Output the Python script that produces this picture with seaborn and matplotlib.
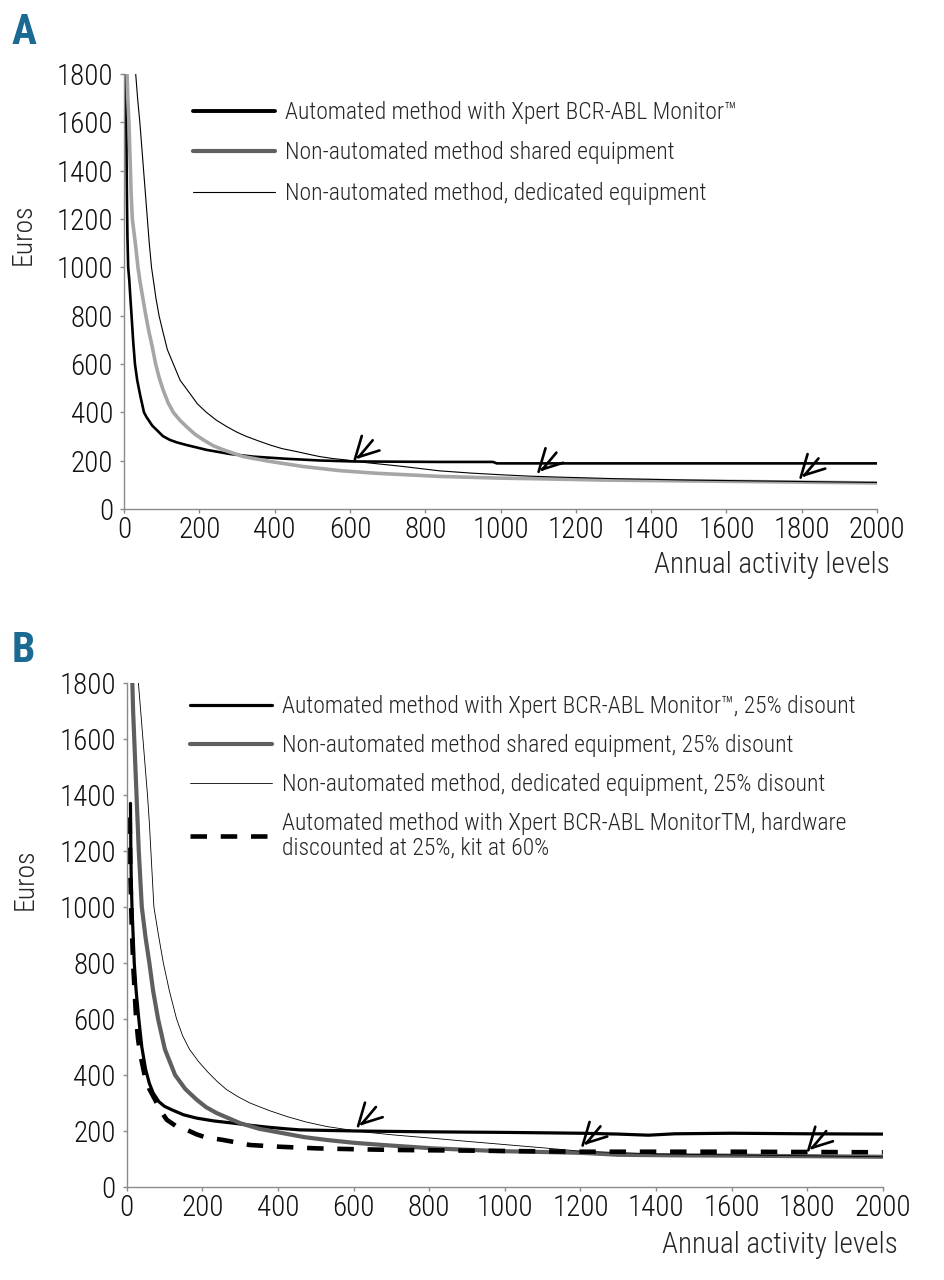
import matplotlib
matplotlib.use("Agg")
import matplotlib.pyplot as plt
import seaborn as sns

# panel A: cost per test (euros) vs annual activity level
a_auto_x = [5, 6, 7, 8, 9, 11, 14, 17, 20, 24, 29, 35, 43, 53, 60, 75, 87, 103, 122, 140, 166, 219, 281, 343, 432, 520, 609, 839, 980, 990, 1200, 1600, 2000]
a_auto_y = [1800, 1600, 1400, 1250, 1130, 1000, 946, 870, 800, 700, 600, 533, 470, 400, 380, 345, 327, 302, 286, 276, 265, 245, 228, 217, 208, 201, 197, 195, 195, 189, 189, 189, 189]

a_shared_x = [8, 10, 13, 15, 17, 19, 22, 30, 37, 42, 48, 58, 66, 75, 84, 93, 104, 117, 131, 148, 166, 188, 211, 237, 264, 317, 388, 476, 573, 671, 839, 1000, 1112, 1272, 1592, 2000]
a_shared_y = [1800, 1700, 1600, 1500, 1400, 1300, 1200, 1100, 1000, 946, 890, 800, 735, 671, 600, 545, 492, 440, 400, 368, 341, 310, 286, 262, 245, 217, 197, 176, 159, 148, 135, 128, 125, 120, 115, 108]

a_dedic_x = [31, 36, 42, 47, 52, 57, 62, 67, 73, 78, 85, 93, 103, 115, 131, 149, 175, 195, 219, 245, 273, 300, 326, 357, 388, 420, 458, 490, 520, 555, 591, 644, 700, 742, 790, 839, 920, 1000, 1080, 1160, 1300, 1500, 1750, 2000]
a_dedic_y = [1800, 1700, 1600, 1500, 1400, 1300, 1200, 1100, 1000, 946, 870, 800, 735, 660, 600, 533, 478, 435, 400, 368, 341, 318, 300, 282, 265, 250, 238, 227, 217, 209, 203, 192, 183, 176, 167, 158, 149, 142, 136, 132, 126, 120, 115, 110]

# panel B: 25% discount scenarios
b_auto_x = [10, 11, 12, 14, 17, 20, 25, 32, 40, 50, 60, 70, 85, 100, 119, 150, 185, 230, 282, 330, 370, 420, 458, 530, 608, 800, 1000, 1200, 1300, 1380, 1450, 1600, 1800, 2000]
b_auto_y = [1370, 1200, 1100, 1000, 900, 800, 700, 600, 500, 420, 370, 336, 305, 288, 276, 258, 246, 236, 228, 220, 214, 208, 204, 202, 200, 197, 195, 192, 189, 185, 190, 192, 190, 189]

b_shared_x = [15, 17, 20, 23, 26, 29, 32, 36, 40, 50, 60, 70, 83, 101, 128, 155, 185, 210, 238, 300, 350, 414, 470, 529, 600, 678, 810, 987, 1100, 1200, 1260, 1300, 1450, 1600, 2000]
b_shared_y = [1800, 1700, 1600, 1500, 1400, 1300, 1200, 1100, 1000, 890, 800, 700, 600, 492, 400, 350, 312, 285, 264, 228, 208, 192, 178, 168, 158, 150, 138, 128, 125, 122, 118, 115, 113, 112, 108]

b_dedic_x = [31, 37, 43, 49, 55, 60, 64, 68, 72, 84, 97, 113, 132, 148, 166, 190, 215, 240, 264, 295, 326, 375, 423, 475, 529, 617, 705, 810, 900, 987, 1100, 1200, 1400, 1700, 2000]
b_dedic_y = [1800, 1700, 1600, 1500, 1400, 1300, 1200, 1100, 1000, 900, 800, 700, 600, 540, 492, 448, 410, 376, 348, 322, 300, 274, 252, 232, 216, 198, 186, 174, 163, 153, 140, 128, 118, 113, 108]

b_kit_x = [8, 9, 10, 13, 17, 21, 25, 30, 35, 48, 60, 75, 90, 106, 130, 159, 185, 207, 255, 326, 400, 502, 600, 722, 899, 1200, 1600, 2000]
b_kit_y = [1320, 1200, 1100, 950, 800, 700, 600, 530, 480, 396, 350, 312, 272, 240, 218, 204, 188, 178, 168, 150, 144, 138, 135, 132, 130, 126, 126, 124]

# arrows marking the break-even points
a_arrow_x = [613, 1101, 1797]
a_arrow_y = [205, 154, 130]
b_arrow_x = [612, 1206, 1803]
b_arrow_y = [217, 148, 131]

a_labels = ["Automated method with Xpert BCR-ABL Monitor\u2122",
            "Non-automated method shared equipment",
            "Non-automated method, dedicated equipment"]
b_labels = ["Automated method with Xpert BCR-ABL Monitor\u2122, 25% disount",
            "Non-automated method shared equipment, 25% disount",
            "Non-automated method, dedicated equipment, 25% disount",
            "Automated method with Xpert BCR-ABL MonitorTM, hardware\ndiscounted at 25%, kit at 60%"]

sns.set_style("ticks")
plt.rcParams['font.family'] = ['Roboto Condensed', 'DejaVu Sans']
plt.rcParams['font.weight'] = 'light'
plt.rcParams['axes.labelweight'] = 'light'

fig = plt.figure(figsize=(9.44, 12.8), dpi=100)
axA = fig.add_axes([0.1314, 0.6023, 0.7977, 0.3398])
axB = fig.add_axes([0.1342, 0.07266, 0.801, 0.39375])

sns.lineplot(x=a_auto_x, y=a_auto_y, ax=axA, color="black", lw=1.9, label=a_labels[0])
sns.lineplot(x=a_shared_x, y=a_shared_y, ax=axA, color="#a6a6a6", lw=2.6, label=a_labels[1])
sns.lineplot(x=a_dedic_x, y=a_dedic_y, ax=axA, color="black", lw=0.8, label=a_labels[2])

sns.lineplot(x=b_auto_x, y=b_auto_y, ax=axB, color="black", lw=2.3, label=b_labels[0])
sns.lineplot(x=b_shared_x, y=b_shared_y, ax=axB, color="#5f5f5f", lw=3.0, label=b_labels[1])
sns.lineplot(x=b_dedic_x, y=b_dedic_y, ax=axB, color="black", lw=0.6, label=b_labels[2])
sns.lineplot(x=b_kit_x, y=b_kit_y, ax=axB, color="black", lw=3.3, label=b_labels[3])
axB.lines[3].set_dashes((3.6, 3.0))

for ax in (axA, axB):
    ax.set_xlim(0, 2000)
    ax.set_ylim(0, 1800)
    ax.set_xticks(range(0, 2001, 200))
    ax.set_yticks(range(0, 1801, 200))
    for s in ("top", "right"):
        ax.spines[s].set_visible(False)
    for s in ("left", "bottom"):
        ax.spines[s].set_color("#8a8a8a")
        ax.spines[s].set_linewidth(1.0)
    ax.tick_params(colors="#8a8a8a", length=3, width=1, labelcolor="#111111", labelsize=21)
    ax.tick_params(axis="y", pad=5)
    ax.tick_params(axis="x", pad=2)
    ax.set_ylabel("Euros", fontsize=20, fontweight="light")
    ax.set_xlabel("Annual activity levels", fontsize=21, fontweight="light", ha="right", va="center")

axA.yaxis.set_label_coords(-0.1155, 0.632)
axA.xaxis.set_label_coords(1.017, -0.129)
axB.yaxis.set_label_coords(-0.116, 0.611)
axB.xaxis.set_label_coords(1.020, -0.115)

# shaft nearly vertical, open head pointing down-left
shaft_style = dict(arrowstyle="-", lw=1.9, color="black", shrinkA=0, shrinkB=0)
head_style = dict(arrowstyle="->, head_length=0.75, head_width=0.22", lw=1.9,
                  color="black", mutation_scale=20, shrinkA=0, shrinkB=0)
for ax, xs, ys in ((axA, a_arrow_x, a_arrow_y), (axB, b_arrow_x, b_arrow_y)):
    for x, y in zip(xs, ys):
        ax.annotate("", xy=(x, y), xytext=(5, 17), textcoords="offset points", arrowprops=shaft_style)
        ax.annotate("", xy=(x, y), xytext=(3.3, 2.2), textcoords="offset points", arrowprops=head_style)

legA = axA.legend(loc="upper left", bbox_to_anchor=(193 / 944, 1 - 101 / 1280),
                  bbox_transform=fig.transFigure, frameon=False, fontsize=17,
                  handlelength=3.47, handletextpad=0.42, labelspacing=0.74,
                  borderaxespad=0, borderpad=0)
legA.legend_handles[1].set_color("#606060")
legA.legend_handles[1].set_linewidth(3.0)
legA.legend_handles[0].set_linewidth(2.8)
legB = axB.legend(loc="upper left", bbox_to_anchor=(190 / 944, 1 - 695 / 1280),
                  bbox_transform=fig.transFigure, frameon=False, fontsize=17,
                  handlelength=3.47, handletextpad=0.42, labelspacing=0.68,
                  borderaxespad=0, borderpad=0)
for t in legB.get_texts()[3:]:
    t.set_linespacing(1.05)

fig.text(12 / 944, 1 - 12 / 1280, "A", color="#1b6a94", fontsize=30, fontweight="bold", va="top")
fig.text(12 / 944, 1 - 630 / 1280, "B", color="#1b6a94", fontsize=30, fontweight="bold", va="top")

fig.savefig("out.png", dpi=100)
